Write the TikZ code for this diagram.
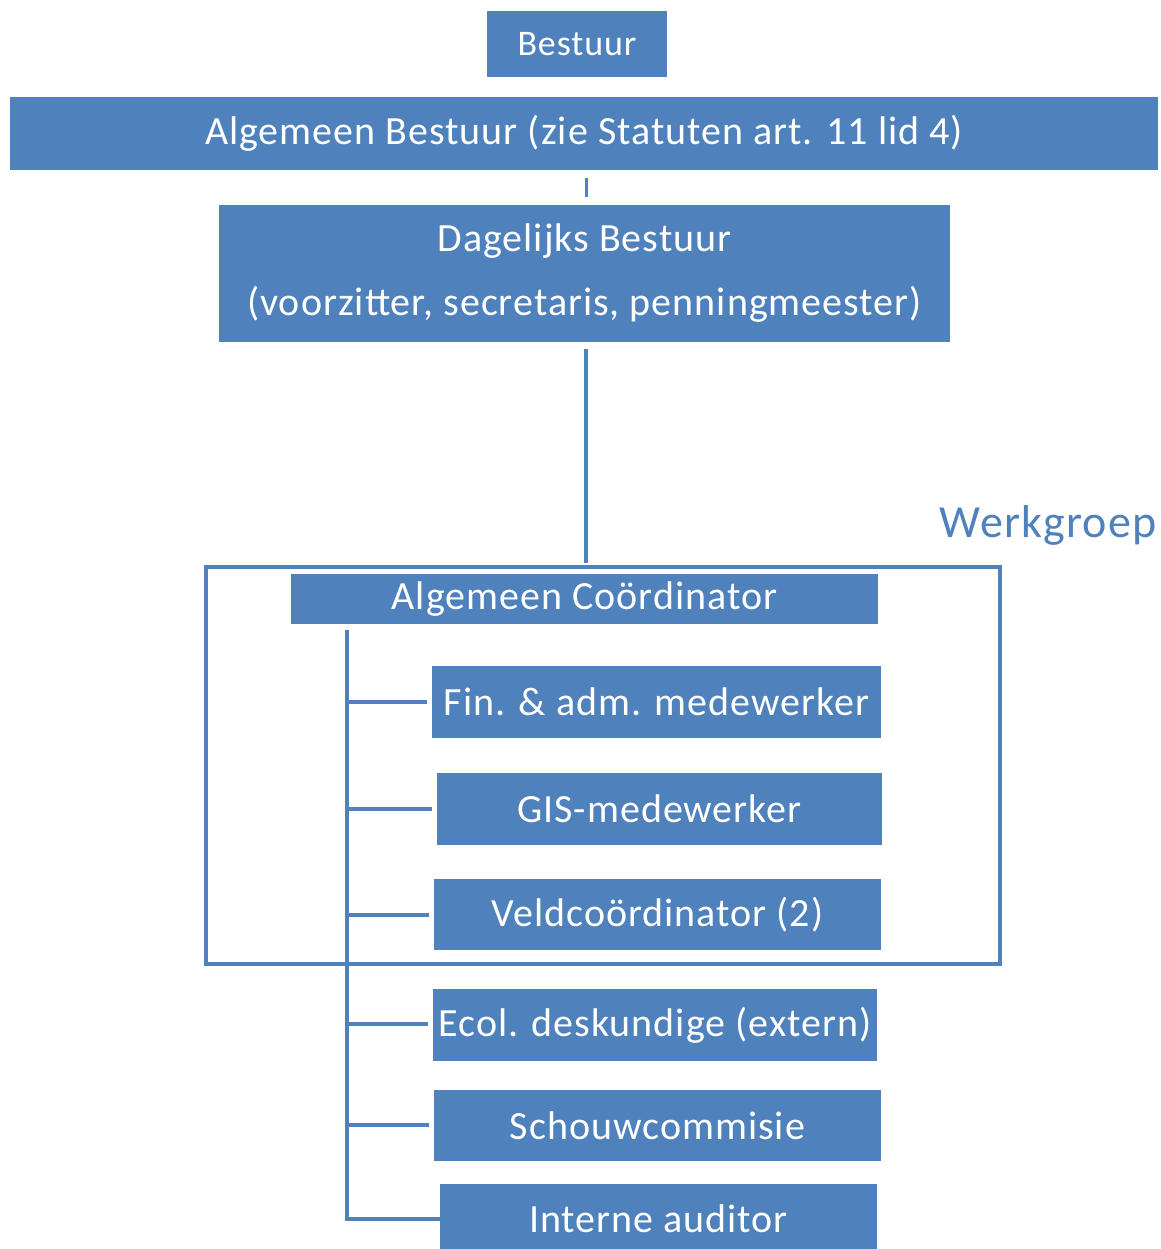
\documentclass[tikz,border=0pt]{standalone}
\usepackage{fontspec}
\setmainfont{Carlito}[LetterSpace=2.5]
\definecolor{boxblue}{HTML}{4F81BD}
\tikzset{
  box/.style={fill=boxblue, draw=none, text=white, inner sep=0pt, align=center, font=\fontsize{40}{46}\selectfont},
  conn/.style={draw=boxblue, line width=4pt},
}
\begin{document}
\begin{tikzpicture}[x=1pt,y=-1pt]
\useasboundingbox (0,0) rectangle (1160,1249);
\node[box, minimum width=180, minimum height=66, font=\fontsize{36}{40}\selectfont] (bestuur) at (577,44) {Bestuur};
\node[box, minimum width=1148, minimum height=73] (ab) at (584,133.5) {Algemeen Bestuur (zie Statuten art. 11 lid 4)};
\node[box, minimum width=731, minimum height=137, font=\fontsize{40}{64}\selectfont] (db) at (584.5,273.5) {Dagelijks Bestuur\\(voorzitter, secretaris, penningmeester)};
\coordinate (c1) at (586,178);
\coordinate (c2) at (586,197);
\draw[conn, line width=3pt] (c1) -- (c2);
\coordinate (d1) at (586,349);
\coordinate (d2) at (586,563);
\draw[conn] (d1) -- (d2);
\node[text=boxblue, font=\fontsize{46}{52}\selectfont, inner sep=0pt] (wg) at (1048,525) {Werkgroep};
\node[draw=boxblue, line width=3.5pt, minimum width=794, minimum height=397, inner sep=0pt] (wgbox) at (603,765.5) {};
\node[box, minimum width=587, minimum height=50] (ac) at (584.5,599) {Algemeen Coördinator};
\node[box, minimum width=449, minimum height=72] (fin) at (656.5,702) {Fin. \& adm. medewerker};
\node[box, minimum width=445, minimum height=72] (gis) at (659.5,809) {GIS-medewerker};
\node[box, minimum width=447, minimum height=71] (veld) at (657.5,914.5) {Veldcoördinator (2)};
\node[box, minimum width=444, minimum height=72] (ecol) at (655,1025) {Ecol. deskundige (extern)};
\node[box, minimum width=447, minimum height=71] (schouw) at (657.5,1125.5) {Schouwcommisie};
\node[box, minimum width=437, minimum height=70] (audit) at (658.5,1219) {Interne auditor};
\coordinate (v0) at (347,630);
\draw[conn] (v0) |- (audit.west);
\foreach \n/\y in {fin/702, gis/809, veld/915, ecol/1024, schouw/1125}{
  \coordinate (b\n) at (347,\y);
  \draw[conn] (b\n) -- ([xshift=-5pt]\n.west |- b\n);
}
\end{tikzpicture}
\end{document}
